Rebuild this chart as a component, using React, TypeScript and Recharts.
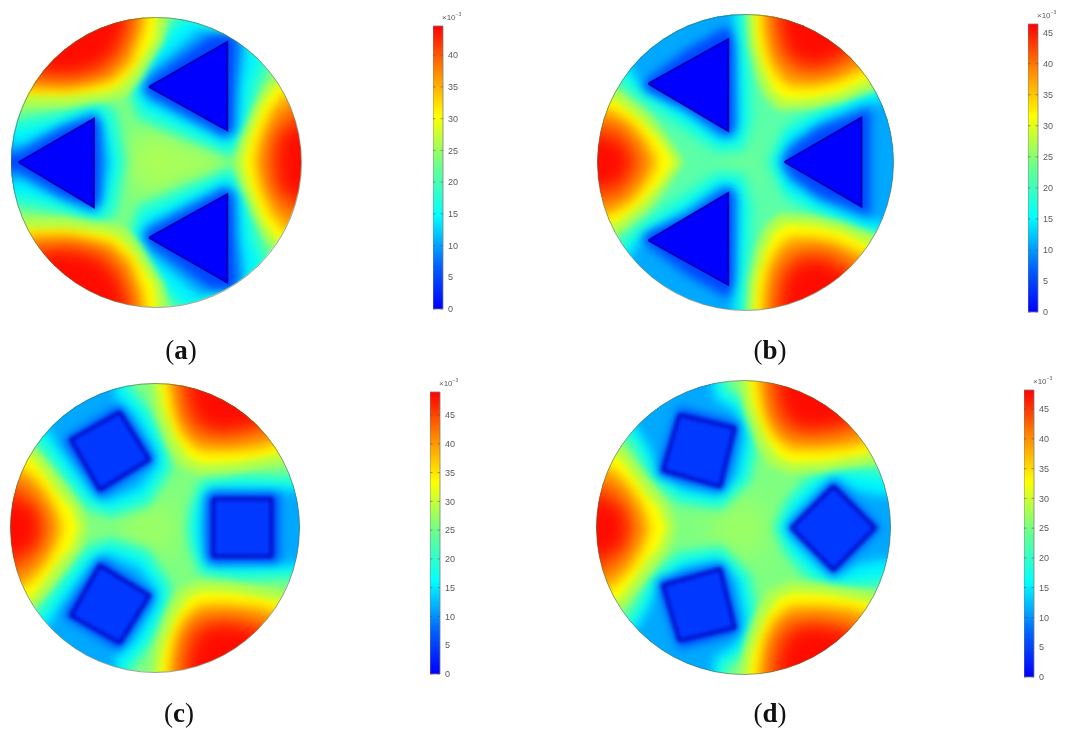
import React from 'react';
import { ScatterChart, Scatter, XAxis, YAxis, BarChart, Bar, ReferenceLine } from 'recharts';

type Ring = number[][];

// contour levels, outermost first
const coldLevels = ['#24ffd4', '#00f4ff', '#00a8ff', '#0044ff'];
const hotLevels = ['#b4ff4a', '#ffff00', '#ff9c00', '#ff5000', '#ff0c00'];
const jetStops = [
    { at: '0%', color: '#0000ff' },
    { at: '15%', color: '#0060ff' },
    { at: '33%', color: '#00ffff' },
    { at: '50%', color: '#66ff90' },
    { at: '68%', color: '#ffff00' },
    { at: '85%', color: '#ff8000' },
    { at: '100%', color: '#ff0000' },
];

// half contours are listed from the rim to the point on the horizontal axis
const sym = (half: Ring): Ring => [...half, ...[...half].reverse().map(([x, y]) => [x, -y])];
const flipY = (ring: Ring): Ring => ring.map(([x, y]) => [x, -y]);

// panel (a)
const hotSideA: Ring[] = [
    sym([[115, 80], [77, 55], [67, 38], [58, 15], [54, 0]]),
    sym([[115, 70], [83, 53], [74, 40], [64, 15], [60, 0]]),
    sym([[115, 60], [89, 47], [79, 35], [71, 15], [68, 0]]),
    sym([[115, 46], [87, 31], [79, 17], [76, 0]]),
    sym([[115, 33], [87, 19], [85, 10], [84, 0]]),
];
const hotCornerA: Ring[] = [
    [[7, 115], [7, 99], [5, 84], [-10, 58], [-20, 46], [-33, 42], [-60, 38], [-85, 38], [-115, 38], [-115, 115]],
    [[0, 115], [0.5, 99], [-2, 84], [-16, 63], [-25, 53], [-34, 49], [-62, 46], [-87, 46], [-115, 46], [-115, 115]],
    [[-7, 115], [-9, 92], [-18, 68], [-31, 56], [-60, 50], [-85, 50], [-115, 58], [-115, 115]],
    [[-14, 115], [-16, 92], [-24, 73], [-36, 61], [-57, 56], [-82, 57], [-115, 70], [-115, 115]],
    [[-21, 115], [-23, 93], [-29, 78], [-41, 67], [-59, 62], [-77, 63], [-115, 84], [-115, 115]],
];
const coldUpperA: Ring[] = [
    [[-20, 52], [-13, 68], [15, 102], [80, 75], [71, 50], [66, 25], [52, 3], [-13, 30]],
    [[-14, 52], [-10, 66], [22, 100], [72, 72], [64, 55], [60, 28], [50, 10], [-9, 38]],
    [[-10, 52], [-5, 62], [30, 92], [62, 82], [57, 52], [55, 22], [48, 16], [-7, 44]],
    [[-8, 52], [-3, 58], [38, 88], [56, 88], [54, 52], [53, 22], [48, 18], [-6, 47]],
];
const coldSideA: Ring[] = [
    sym([[-115, 32], [-95, 30], [-66, 36], [-42, 46], [-27, 35], [-21, 0]]),
    sym([[-115, 26], [-95, 22], [-66, 28], [-42, 38], [-34, 28], [-28, 0]]),
    sym([[-115, 15], [-92, 12], [-66, 25], [-42, 34], [-38, 26], [-33, 0]]),
    sym([[-115, 6], [-95, 6], [-66, 23], [-42, 32], [-39, 26], [-38, 0]]),
];
const coreUpperA: Ring = [[-5, 52], [49, 83], [49, 22]];
const coreSideA: Ring = [[-95, 0], [-43, 30], [-43, -31]];
const humpA: Ring = [[-22, 0], [-8, 25], [15, 14], [45, 8], [45, -8], [15, -14], [-8, -25]];

// panel (b)
const hotSideB: Ring[] = [
    sym([[-110, 60], [-85, 48], [-65, 32], [-52, 15], [-42, 0]]),
    sym([[-115, 52], [-86, 40], [-72, 29], [-58, 14], [-49, 0]]),
    sym([[-115, 41], [-89, 34], [-76, 25], [-66, 12], [-60, 0]]),
    sym([[-115, 30], [-86, 24], [-75, 12], [-70, 0]]),
    sym([[-115, 20], [-87, 14], [-83, 9], [-78, 0]]),
];
const hotCornerB: Ring[] = [
    [[0, 115], [1, 98], [2, 80], [7, 58], [13, 44], [22, 35], [45, 36], [63, 40], [82, 47], [115, 56], [115, 115]],
    [[5, 115], [6, 99], [7, 81], [13, 61], [19, 48], [27, 42], [45, 43], [63, 47], [81, 55], [115, 65], [115, 115]],
    [[11, 115], [12, 90], [15, 71], [21, 59], [29, 51], [45, 51], [60, 54], [76, 61], [115, 76], [115, 115]],
    [[18, 115], [18, 90], [22, 73], [32, 61], [45, 59], [58, 61], [73, 70], [115, 91], [115, 115]],
    [[24, 115], [25, 90], [29, 75], [39, 67], [52, 67], [63, 73], [115, 108], [115, 115]],
];
const coldUpperB: Ring[] = [
    [[1, 115], [1, 97], [4, 60], [5, 30], [-1, 7], [-20, 6], [-44, 22], [-66, 37], [-82, 50], [-92, 62], [-115, 78], [-60, 115]],
    [[-6, 115], [-6, 97], [-2, 60], [-1, 30], [-5, 13], [-18, 12], [-41, 28], [-62, 42], [-76, 53], [-84, 62], [-115, 85], [-60, 115]],
    [[-8, 115], [-9, 95], [-7, 60], [-6, 25], [-9, 18], [-18, 17], [-40, 34], [-62, 47], [-71, 53], [-80, 66], [-115, 95], [-115, 115]],
    [[-12, 92], [-8, 80], [-8, 22], [-12, 17], [-40, 36], [-69, 49], [-69, 54], [-40, 76]],
];
const coldSideB: Ring[] = [
    sym([[115, 62], [92, 54], [78, 50], [49, 38], [27, 25], [14, 0]]),
    sym([[115, 55], [90, 48], [78, 43], [49, 31], [27, 19], [20, 0]]),
    sym([[115, 42], [88, 40], [78, 38], [49, 26], [30, 13], [23, 0]]),
    sym([[84, 36], [78, 34], [49, 23], [30, 9], [25, 0]]),
];
const coreUpperB: Ring = [[-66, 53], [-12, 83], [-12, 21]];
const coreSideB: Ring = [[26, 0], [78, 30], [78, -30]];
const humpB: Ring = [[-18, 0], [-6, 12], [8, 8], [10, -8], [-6, -12]];

// panels (c) and (d) share their hot lobes
const hotSideC: Ring[] = [
    sym([[-115, 72], [-82, 54], [-70, 40], [-60, 27], [-51, 14], [-46, 0]]),
    sym([[-115, 65], [-84, 47], [-75, 35], [-66, 22], [-58, 14], [-53, 0]]),
    sym([[-115, 53], [-87, 38], [-76, 26], [-68, 12], [-64, 0]]),
    sym([[-115, 40], [-87, 26], [-77, 12], [-73, 0]]),
    sym([[-115, 27], [-87, 15], [-82, 10], [-81, 0]]),
];
const hotCornerC: Ring[] = [
    [[-1, 115], [-2, 98], [0, 82], [8, 58], [17, 43], [30, 37], [54, 38], [84, 43], [115, 50], [115, 115]],
    [[3, 115], [3.5, 99], [6, 84], [15, 61], [24, 48], [34, 44], [54, 45], [82, 50], [115, 58], [115, 115]],
    [[9, 115], [11, 95], [14, 77], [21, 62], [32, 53], [52, 53], [73, 55], [115, 68], [115, 115]],
    [[16, 115], [17, 92], [21, 74], [31, 63], [50, 61], [68, 64], [115, 81], [115, 115]],
    [[23, 115], [25, 90], [30, 75], [41, 68], [56, 69], [72, 73], [115, 98], [115, 115]],
];
const coldUpperC: Ring[] = [
    [[-115, 90], [-87, 62], [-79, 52], [-67, 36], [-48, 13], [-30, 7], [-4, 15], [12, 40], [9, 58], [-2, 80], [-16, 98], [-17, 115], [-115, 115]],
    [[-115, 100], [-80, 65], [-73, 58], [-61, 40], [-45, 20], [-31, 14], [-8, 22], [6, 42], [3.5, 56], [-8, 79], [-22, 95], [-24, 115], [-115, 115]],
    [[-115, 110], [-74, 68], [-66, 56], [-54, 40], [-40, 22], [-33, 19], [-11, 28], [1, 44], [-1, 54], [-14, 77], [-27, 88], [-29, 115], [-115, 115]],
    [[-24, 85], [0, 47], [-38, 21], [-63, 61]],
];
const coldSideC: Ring[] = [
    sym([[115, 38], [88, 36], [60, 38], [31, 33], [24, 14], [22, 0]]),
    sym([[115, 30], [91, 29], [60, 30], [35, 27], [29, 12], [28, 0]]),
    sym([[115, 25], [82, 25], [40, 26], [36, 23], [33, 0]]),
    sym([[86, 24], [38, 24], [36, 20], [36, 0]]),
];
const coreUpperC: Ring = [[-24, 80], [-3.5, 47], [-38, 26], [-58, 61]];
const coreSideC: Ring = [[40.5, 20], [81, 20], [81, -20], [40.5, -20]];
const humpC: Ring = [[-25, 0], [-10, 20], [12, 15], [18, 0], [12, -15], [-10, -20]];

// panel (d)
const coldUpperD: Ring[] = [
    [[-115, 95], [-85, 65], [-76, 55], [-66, 33], [-44, 16], [-15, 12], [5, 32], [10, 60], [4, 84], [-11, 96], [-13, 115], [-115, 115]],
    [[-115, 105], [-79, 69], [-70, 58], [-60, 37], [-42, 23], [-17, 19], [-1, 35], [4, 60], [-3, 82], [-17, 92], [-20, 115], [-115, 115]],
    [[-115, 113], [-75, 72], [-66, 58], [-58, 41], [-41, 27], [-17, 23], [-5, 36], [0, 62], [-6, 79], [-20, 88], [-24, 115], [-115, 115]],
    [[-44, 82], [-3, 71], [-14, 25], [-59, 36]],
];
const coldSideD: Ring[] = [
    sym([[115, 38], [85, 41], [60, 43], [42, 34], [28, 18], [20, 0]]),
    sym([[115, 30], [90, 33], [75, 35], [60, 36], [45, 28], [33, 15], [26, 0]]),
    sym([[115, 22], [92, 22], [77, 25], [61, 34], [46, 20], [33, 7], [29, 0]]),
    sym([[93, 0], [61, 32], [30.5, 0]]),
];
const coreUpperD: Ring = [[-44, 77], [-6, 68], [-16, 28], [-55, 39]];
const coreSideD: Ring = [[61, 28.5], [89.5, 0], [61, -29], [32.5, 0]];

const ticksA = [0, 5, 10, 15, 20, 25, 30, 35, 40];
const ticksB = [0, 5, 10, 15, 20, 25, 30, 35, 40, 45];

const panels = [
    { id: 'a', letter: 'a', cx: 156, cy: 162, r: 145, base: '#7cff84', humpColor: '#acff56', hump: humpA, hotSide: hotSideA, hotCorner: hotCornerA, coldUpper: coldUpperA, coldSide: coldSideA, coreUpper: coreUpperA, coreSide: coreSideA, coreFill: '#0000ff',
      barX: 433, barTop: 26, barBottom: 309, max: 44.6, ticks: ticksA, labelX: 181, labelY: 350 },
    { id: 'b', letter: 'b', cx: 745.5, cy: 162, r: 148, base: '#5cffa8', humpColor: '#70ff94', hump: humpB, hotSide: hotSideB, hotCorner: hotCornerB, coldUpper: coldUpperB, coldSide: coldSideB, coreUpper: coreUpperB, coreSide: coreSideB, coreFill: '#0000ff',
      barX: 1028, barTop: 24, barBottom: 312, max: 46.4, ticks: ticksB, labelX: 770, labelY: 350 },
    { id: 'c', letter: 'c', cx: 155, cy: 527.5, r: 144.5, base: '#80ff80', humpColor: '#9cff64', hump: humpC, hotSide: hotSideC, hotCorner: hotCornerC, coldUpper: coldUpperC, coldSide: coldSideC, coreUpper: coreUpperC, coreSide: coreSideC, coreFill: '#0038ff',
      barX: 430, barTop: 392, barBottom: 674, max: 49, ticks: ticksB, labelX: 179, labelY: 713 },
    { id: 'd', letter: 'd', cx: 743.5, cy: 527.5, r: 147, base: '#80ff80', humpColor: '#9cff64', hump: humpC, hotSide: hotSideC, hotCorner: hotCornerC, coldUpper: coldUpperD, coldSide: coldSideD, coreUpper: coreUpperD, coreSide: coreSideD, coreFill: '#0038ff',
      barX: 1024, barTop: 390, barBottom: 677, max: 48.2, ticks: ticksB, labelX: 770, labelY: 713 },
];

const baseRing: Ring = [[-124, -124], [124, -124], [124, 124], [-124, 124]];
const noDot = () => null;
const softness = ['soft-1', 'soft-1', 'soft-2', 'soft-3', 'soft-3'];

// closed polygon in chart coordinates, drawn through the axis scales
const contour = (ring: Ring, fill: string, cls: string, key: string, stroke?: string, strokeWidth?: number) => {
    const pts = [...ring, ring[0]].map(([x, y]) => ({ x, y }));
    return (
        <Scatter
            key={key}
            data={pts}
            className={cls}
            shape={noDot}
            line={{ fill, stroke: stroke || fill, strokeWidth: strokeWidth || 0 }}
            isAnimationActive={false}
        />
    );
};

const Field = ({ p }: { p: (typeof panels)[number] }) => {
    const size = p.r * 2.5;
    const cold = p.coldUpper.flatMap((ring, i) => [
        contour(ring, coldLevels[i], 'soft-cold', `cu${i}`),
        contour(flipY(ring), coldLevels[i], 'soft-cold', `cl${i}`),
        contour(p.coldSide[i], coldLevels[i], 'soft-cold', `cs${i}`),
    ]);
    const hot = p.hotCorner.flatMap((ring, i) => [
        contour(ring, hotLevels[i], softness[i], `hu${i}`),
        contour(flipY(ring), hotLevels[i], softness[i], `hl${i}`),
        contour(p.hotSide[i], hotLevels[i], softness[i], `hs${i}`),
    ]);
    const coreCls = p.coreFill === '#0000ff' ? 'core-tri' : 'core-sq';
    const coreW = p.coreFill === '#0000ff' ? 2 : 3;
    return (
        <>
            <div style={{ position: 'absolute', left: p.cx - size / 2, top: p.cy - size / 2, width: size, height: size, clipPath: `circle(${p.r}px at 50% 50%)` }}>
                <ScatterChart width={size} height={size} margin={{ top: 0, right: 0, bottom: 0, left: 0 }}>
                    <XAxis type="number" dataKey="x" domain={[-125, 125]} hide />
                    <YAxis type="number" dataKey="y" domain={[-125, 125]} hide />
                    {contour(baseRing, p.base, 'plain', 'base')}
                    {contour(p.hump, p.humpColor, 'soft-hump', 'hump')}
                    {cold}
                    {hot}
                    {contour(p.coreUpper, p.coreFill, coreCls, 'c1', '#0000b8', coreW)}
                    {contour(flipY(p.coreUpper), p.coreFill, coreCls, 'c2', '#0000b8', coreW)}
                    {contour(p.coreSide, p.coreFill, coreCls, 'c3', '#0000b8', coreW)}
                </ScatterChart>
            </div>
            <div style={{ position: 'absolute', left: p.cx - p.r - 0.5, top: p.cy - p.r - 0.5, width: p.r * 2 + 1, height: p.r * 2 + 1, boxSizing: 'border-box', borderRadius: '50%', border: '1px solid rgba(95,95,95,0.6)' }} />
        </>
    );
};

const ColorBar = ({ p }: { p: (typeof panels)[number] }) => {
    const pad = 6;
    const h = p.barBottom - p.barTop;
    return (
        <>
            <div style={{ position: 'absolute', left: p.barX, top: p.barTop - pad }}>
                <BarChart width={36} height={h + pad * 2} data={[{ name: p.id, value: p.max }]} margin={{ top: pad, right: 0, bottom: pad, left: 0 }} barCategoryGap={0}>
                    <defs>
                        <linearGradient id={`jet-${p.id}`} x1="0" y1="1" x2="0" y2="0">
                            {jetStops.map((s) => <stop key={s.at} offset={s.at} stopColor={s.color} />)}
                        </linearGradient>
                    </defs>
                    <XAxis dataKey="name" hide />
                    <YAxis
                        orientation="right"
                        width={26}
                        domain={[0, p.max]}
                        ticks={p.ticks}
                        axisLine={false}
                        tickLine={false}
                        tickSize={0}
                        tickMargin={5}
                        interval={0}
                        tick={{ fontSize: 9, fill: '#5a5a5a', fontFamily: '"Liberation Sans", Arial, sans-serif' }}
                    />
                    <Bar dataKey="value" fill={`url(#jet-${p.id})`} stroke="#7d7d7d" strokeWidth={0.8} isAnimationActive={false} />
                    {p.ticks.map((t) => (
                        <ReferenceLine key={t} y={t} stroke="#555" strokeOpacity={0.55} strokeDasharray="2.5 5" />
                    ))}
                </BarChart>
            </div>
            <div style={{ position: 'absolute', left: p.barX + 9, top: p.barTop - 13, fontSize: 8, lineHeight: '10px', color: '#5a5a5a', fontFamily: '"Liberation Sans", Arial, sans-serif', whiteSpace: 'nowrap' }}>
                ×10<sup style={{ fontSize: 5, lineHeight: 0 }}>−3</sup>
            </div>
        </>
    );
};

export default function App() {
    return (
        <div style={{ position: 'fixed', left: 0, top: 0, width: 1067, height: 739, overflow: 'hidden', background: '#fff', filter: 'blur(0.35px)' }}>
            <style>{`
                .soft-1 { filter: blur(2.5px); }
                .soft-2 { filter: blur(4px); }
                .soft-3 { filter: blur(5.5px); }
                .soft-cold { filter: blur(3.5px); }
                .soft-hump { filter: blur(9px); }
                .core-tri { filter: blur(0.7px); }
                .core-sq { filter: blur(1.4px); }
            `}</style>
            {panels.map((p) => <Field key={p.id} p={p} />)}
            {panels.map((p) => <ColorBar key={p.id} p={p} />)}
            {panels.map((p) => (
                <div key={p.id} style={{ position: 'absolute', left: p.labelX - 30, top: p.labelY - 16, width: 60, textAlign: 'center', fontFamily: '"Liberation Serif", serif', fontSize: 27, lineHeight: '32px', color: '#111' }}>
                    (<b>{p.letter}</b>)
                </div>
            ))}
        </div>
    );
}
